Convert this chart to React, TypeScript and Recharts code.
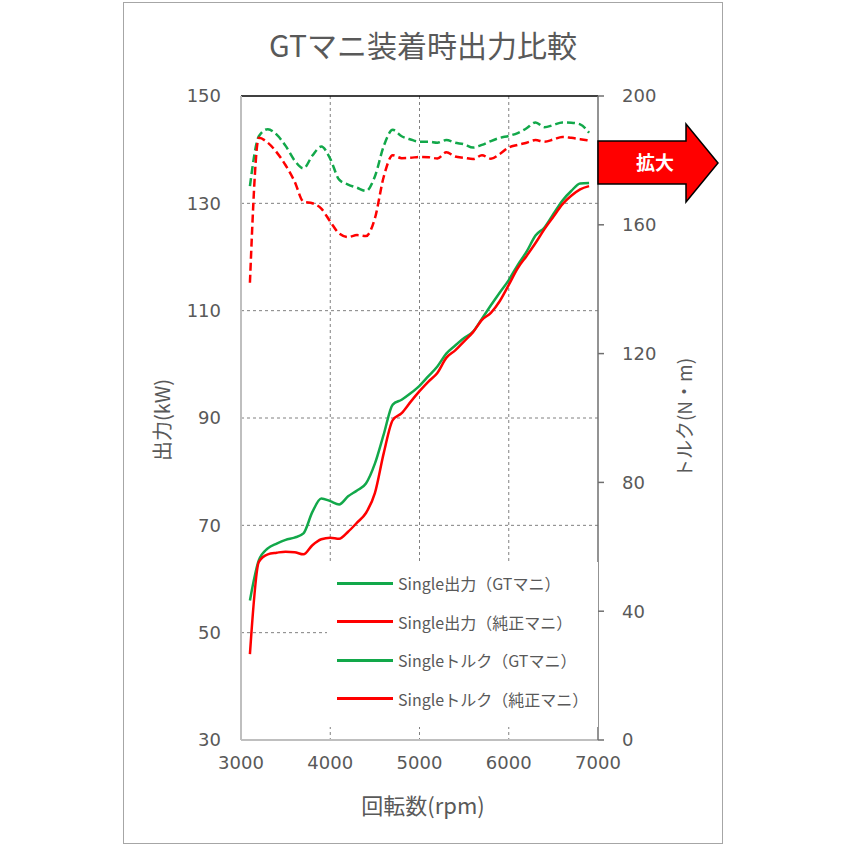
import {
  CartesianGrid,
  ComposedChart,
  Legend,
  Line,
  ReferenceLine,
  XAxis,
  YAxis,
} from "recharts";

const rpm = [
  3100, 3200, 3300, 3400, 3500, 3600, 3700, 3800, 3900, 4000, 4100, 4200, 4300,
  4400, 4500, 4600, 4700, 4800, 4900, 5000, 5100, 5200, 5300, 5400, 5500, 5600,
  5700, 5800, 5900, 6000, 6100, 6200, 6300, 6400, 6500, 6600, 6700, 6800, 6900,
];

// 出力 (kW)
const powerGT = [
  56, 63.5, 65.7, 66.6, 67.3, 67.7, 68.5, 72.5, 75, 74.5, 73.9, 75.4, 76.5,
  77.8, 81.5, 87, 92.5, 93.4, 94.6, 96, 97.8, 99.6, 102, 103.5, 104.9, 106.1,
  108.5, 111, 113.4, 115.7, 118.5, 121, 124, 125.5, 128, 130.5, 132.3, 133.7, 133.8,
];
const powerStock = [
  46, 63.2, 64.6, 64.9, 65.1, 65, 64.6, 66.3, 67.4, 67.7, 67.5, 68.8, 70.5,
  72.3, 76, 83.5, 89.6, 90.9, 93, 95, 96.8, 98.4, 101.2, 102.6, 104.3, 106,
  108.3, 109.6, 111.8, 114.8, 117.9, 120.2, 122.6, 125.2, 127.5, 129.8, 131.4, 132.6, 133.2,
];

// トルク (N・m)
const torqueGT = [
  172, 187.5, 189.7, 188, 184.5, 180, 177.5, 181.5, 184.3, 180.5, 174, 172.5, 171.5,
  170.5, 175, 184.5, 189.5, 187.5, 186.5, 185.8, 185.8, 185.5, 186.3, 185.5, 185, 184,
  184.8, 186, 187, 187.6, 188.5, 190, 191.8, 190.3, 191, 191.8, 191.7, 191.2, 188.6,
];
const torqueStock = [
  142, 187, 185.5, 182.5, 178.5, 173.5, 167.2, 166.7, 165, 161, 157.3, 156.2, 156.8,
  156.5, 162, 175, 181.6, 180.7, 180.8, 181.1, 181, 180.6, 182.5, 181.2, 180.8, 180.4,
  181.6, 180.5, 182, 184, 184.8, 185.5, 186.3, 185.8, 186.5, 187.3, 187, 186.6, 186.2,
];

const rpmTicks = [3000, 4000, 5000, 6000, 7000];
const kwTicks = [30, 50, 70, 90, 110, 130, 150];
const nmTicks = [0, 40, 80, 120, 160, 200];

const legendItems = [
  { label: "Single出力（GTマニ）", color: "#12a84a" },
  { label: "Single出力（純正マニ）", color: "#ff0000" },
  { label: "Singleトルク（GTマニ）", color: "#12a84a" },
  { label: "Singleトルク（純正マニ）", color: "#ff0000" },
];

const data = rpm.map((r, i) => ({
  rpm: r,
  powerGT: powerGT[i],
  powerStock: powerStock[i],
  torqueGT: torqueGT[i],
  torqueStock: torqueStock[i],
}));

const GREEN = "#12a84a";
const RED = "#ff0000";
const TEXT = "#595959";
const tickStyle = { fill: TEXT, fontSize: 18, fontFamily: "DejaVu Sans" };

function ChartLegend() {
  return (
    <div style={{ background: "#fff", width: 271, height: 165, paddingTop: 2, boxSizing: "border-box" }}>
      {legendItems.map((item) => (
        <div key={item.label} style={{ display: "flex", alignItems: "center", height: 38.5 }}>
          <span style={{ marginLeft: 10, width: 56, height: 3, background: item.color }} />
          <span style={{ marginLeft: 5, fontSize: 16, color: TEXT, fontFamily: "'Noto Sans CJK JP'" }}>
            {item.label}
          </span>
        </div>
      ))}
    </div>
  );
}

export default function App() {
  return (
    <div
      style={{
        position: "absolute",
        left: 0,
        top: 0,
        width: 846,
        height: 846,
        background: "#fff",
        fontFamily: "'Noto Sans CJK JP', sans-serif",
      }}
    >
      <div
        style={{
          position: "absolute",
          left: 123,
          top: 2,
          width: 598,
          height: 840,
          border: "1px solid #a6a6a6",
        }}
      />
      <div
        style={{
          position: "absolute",
          left: 123,
          top: 24,
          width: 600,
          textAlign: "center",
          fontSize: 30,
          color: TEXT,
          lineHeight: "40px",
        }}
      >
        GTマニ装着時出力比較
      </div>
      <div style={{ position: "absolute", left: 0, top: 0 }}>
        <ComposedChart width={846} height={846} data={data} margin={{ top: 96, right: 188, bottom: 66, left: 181 }}>
          <CartesianGrid
            yAxisId="kw"
            stroke="#808080"
            strokeDasharray="3 3"
            horizontalValues={[130, 110, 90, 70, 50]}
            verticalValues={[4000, 5000, 6000]}
          />
          <XAxis
            dataKey="rpm"
            type="number"
            domain={[3000, 7000]}
            ticks={rpmTicks}
            height={40}
            axisLine={{ stroke: "#bfbfbf", strokeWidth: 2 }}
            tickLine={false}
            tickSize={0}
            tickMargin={16}
            tick={tickStyle}
            interval={0}
          />
          <YAxis
            yAxisId="kw"
            type="number"
            domain={[30, 150]}
            ticks={kwTicks}
            width={60}
            axisLine={{ stroke: "#bfbfbf", strokeWidth: 2 }}
            tickLine={false}
            tickSize={0}
            tickMargin={20}
            tick={tickStyle}
            interval={0}
            label={{
              value: "出力(kW)",
              angle: -90,
              position: "center",
              dx: -48,
              dy: 2,
              fill: TEXT,
              fontSize: 20,
            }}
          />
          <YAxis
            yAxisId="nm"
            orientation="right"
            type="number"
            domain={[0, 200]}
            ticks={nmTicks}
            width={60}
            axisLine={{ stroke: "#6f6f6f", strokeWidth: 1.5 }}
            tickLine={{ stroke: "#6f6f6f", strokeWidth: 1.5 }}
            tickSize={6}
            tickMargin={18}
            tick={tickStyle}
            interval={0}
            label={{
              value: "トルク(N・m)",
              angle: -90,
              position: "center",
              dx: 57,
              fill: TEXT,
              fontSize: 19,
            }}
          />
          <ReferenceLine yAxisId="kw" y={150} stroke="#000" strokeWidth={1.5} />
          <Legend
            layout="vertical"
            align="center"
            verticalAlign="middle"
            content={<ChartLegend />}
            wrapperStyle={{ left: 327, top: 562, width: 271, height: 165 }}
          />
          <Line
            yAxisId="nm"
            dataKey="torqueGT"
            type="monotone"
            stroke={GREEN}
            strokeWidth={2.5}
            strokeDasharray="8 4"
            dot={false}
            isAnimationActive={false}
          />
          <Line
            yAxisId="nm"
            dataKey="torqueStock"
            type="monotone"
            stroke={RED}
            strokeWidth={2.5}
            strokeDasharray="8 4"
            dot={false}
            isAnimationActive={false}
          />
          <Line
            yAxisId="kw"
            dataKey="powerGT"
            type="monotone"
            stroke={GREEN}
            strokeWidth={2.5}
            dot={false}
            isAnimationActive={false}
          />
          <Line
            yAxisId="kw"
            dataKey="powerStock"
            type="monotone"
            stroke={RED}
            strokeWidth={2.5}
            dot={false}
            isAnimationActive={false}
          />
        </ComposedChart>
      </div>
      <div
        style={{
          position: "absolute",
          left: 123,
          top: 789,
          width: 600,
          textAlign: "center",
          fontSize: 22,
          color: TEXT,
          lineHeight: "30px",
        }}
      >
        回転数(rpm)
      </div>
      <svg style={{ position: "absolute", left: 597, top: 122 }} width={124} height={82}>
        <polygon
          points="1,19 89,19 89,2 121,41 89,80 89,62 1,62"
          fill="#ff0000"
          stroke="#000"
          strokeWidth={1.5}
        />
        <text
          x={58}
          y={48}
          textAnchor="middle"
          fill="#fff"
          fontSize={19}
          fontWeight="bold"
          fontFamily="'Noto Sans CJK JP'"
        >
          拡大
        </text>
      </svg>
    </div>
  );
}
